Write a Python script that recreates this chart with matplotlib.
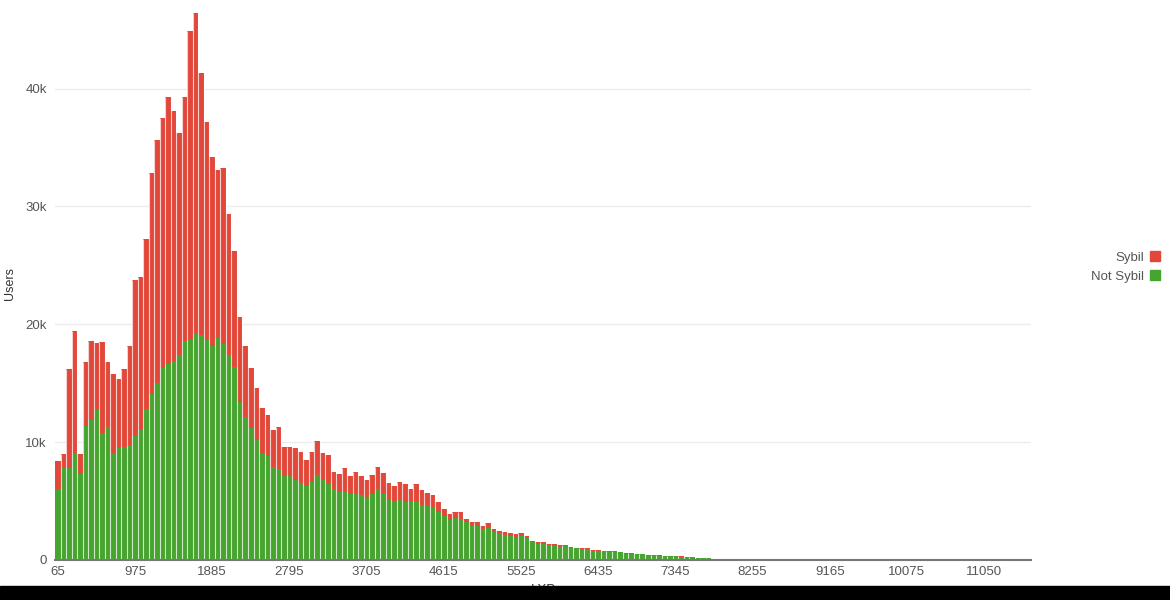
"""
LXP distribution of users, stacked Sybil / Not Sybil per 65-LXP bin.
"""

import numpy as np
import matplotlib
matplotlib.use("Agg")
import matplotlib.pyplot as plt
from matplotlib.patches import Patch, Rectangle

# Users per bin, in thousands
total_k = [
    8.4, 9.0, 16.2, 19.4, 9.0, 16.8, 18.6, 18.4, 18.5, 16.8,
    15.8, 15.4, 16.2, 18.2, 23.8, 24.0, 27.2, 32.8, 35.6, 37.5,
    39.3, 38.1, 36.2, 39.3, 44.9, 46.4, 41.3, 37.2, 34.2, 33.1,
    33.3, 29.4, 26.2, 20.6, 18.2, 16.3, 14.6, 12.9, 12.3, 11.0,
    11.3, 9.6, 9.6, 9.5, 9.2, 8.5, 9.2, 10.1, 9.1, 8.9,
    7.5, 7.3, 7.8, 7.1, 7.5, 7.1, 6.8, 7.2, 7.9, 7.4,
    6.5, 6.3, 6.6, 6.45, 6.0, 6.45, 5.9, 5.7, 5.5, 4.9,
    4.3, 3.9, 4.1, 4.1, 3.5, 3.2, 3.2, 2.9, 3.1, 2.6,
    2.5, 2.4, 2.3, 2.2, 2.3, 2.0, 1.6, 1.5, 1.5, 1.4,
    1.35, 1.25, 1.3, 1.1, 1.05, 1.05, 1.0, 0.85, 0.85, 0.8,
    0.75, 0.75, 0.7, 0.6, 0.6, 0.55, 0.5, 0.45, 0.42, 0.40,
    0.38, 0.36, 0.33, 0.30, 0.27, 0.24, 0.21, 0.18, 0.15, 0.12,
    0.10, 0.08, 0.06, 0.05, 0.04, 0.03, 0.03, 0.02, 0.02, 0.015,
    0.01, 0.01, 0.01, 0.01, 0.01, 0.01, 0.01, 0.01, 0.01, 0.01,
    0.008, 0.008, 0.006, 0.006, 0.005, 0.005, 0.005, 0.004, 0.004, 0.004,
    0.003, 0.003, 0.003, 0.003, 0.003, 0.003, 0.003, 0.003, 0.003, 0.003,
    0.002, 0.002, 0.002, 0.002, 0.002, 0.002, 0.002, 0.002, 0.002, 0.002,
    0.002, 0.001, 0.001, 0.001, 0.001, 0.001, 0.001,
]

not_sybil_k = [
    6.0, 7.9, 7.8, 9.1, 7.3, 11.4, 11.9, 12.7, 10.8, 11.3,
    9.1, 9.5, 9.6, 9.8, 10.5, 11.0, 12.8, 14.1, 15.0, 16.3,
    16.6, 16.9, 17.4, 18.6, 18.7, 19.3, 19.1, 18.7, 18.2, 18.8,
    18.3, 17.4, 16.4, 13.4, 12.1, 11.2, 10.2, 9.1, 8.8, 7.9,
    7.7, 7.1, 7.1, 6.8, 6.5, 6.3, 6.6, 7.2, 6.8, 6.45,
    6.0, 5.8, 5.8, 5.6, 5.6, 5.5, 5.35, 5.6, 6.0, 5.6,
    5.1, 5.0, 5.05, 4.9, 4.9, 5.0, 4.7, 4.6, 4.4, 4.1,
    3.7, 3.4, 3.6, 3.5, 3.2, 2.9, 2.9, 2.6, 2.7, 2.4,
    2.3, 2.1, 2.0, 1.9, 2.0, 1.85, 1.5, 1.4, 1.4, 1.3,
    1.2, 1.1, 1.15, 1.0, 1.0, 0.95, 0.9, 0.8, 0.8, 0.75,
    0.7, 0.7, 0.65, 0.55, 0.55, 0.5, 0.48, 0.42, 0.40, 0.38,
    0.36, 0.34, 0.31, 0.28, 0.25, 0.23, 0.20, 0.17, 0.14, 0.11,
    0.095, 0.075, 0.057, 0.047, 0.038, 0.028, 0.028, 0.019, 0.019, 0.014,
    0.009, 0.009, 0.009, 0.009, 0.009, 0.009, 0.009, 0.009, 0.009, 0.009,
    0.007, 0.007, 0.005, 0.005, 0.004, 0.004, 0.004, 0.003, 0.003, 0.003,
    0.003, 0.003, 0.003, 0.003, 0.003, 0.003, 0.003, 0.003, 0.003, 0.003,
    0.002, 0.002, 0.002, 0.002, 0.002, 0.002, 0.002, 0.002, 0.002, 0.002,
    0.002, 0.001, 0.001, 0.001, 0.001, 0.001, 0.001,
]

tick_labels = ["65", "975", "1885", "2795", "3705", "4615", "5525",
               "6435", "7345", "8255", "9165", "10075", "11050"]
tick_step = 14

RED = "#e2483a"
GREEN = "#47a52f"
TXT = "#555555"


def main():
    total = np.array(total_k) * 1000
    not_sybil = np.array(not_sybil_k) * 1000
    assert len(total) == len(not_sybil)
    sybil = total - not_sybil
    idx = np.arange(len(total))

    plt.rcParams['font.family'] = ['Liberation Sans', 'DejaVu Sans']

    fig = plt.figure(figsize=(11.7, 6.0), dpi=100)
    ax = fig.add_axes([55 / 1170, 40 / 600, 976 / 1170, 548 / 600])

    ax.bar(idx, not_sybil, width=1.0, color=GREEN, linewidth=0, zorder=2)
    ax.bar(idx, sybil, bottom=not_sybil, width=1.0, color=RED,
           linewidth=0, zorder=2)
    # thin light separators between neighbouring bars
    sep_h = np.maximum(total[:-1], total[1:])
    ax.vlines(idx[:-1] + 0.5, 0, sep_h, color='white', alpha=0.75,
              linewidth=0.8, zorder=2.5)

    ax.set_xlim(-0.5, len(total) - 0.5)
    ax.set_ylim(0, 46500)

    ax.set_yticks([0, 10000, 20000, 30000, 40000])
    ax.set_yticklabels(["0", "10k", "20k", "30k", "40k"])
    ax.set_xticks(idx[::tick_step][:len(tick_labels)])
    ax.set_xticklabels(tick_labels)
    ax.tick_params(axis='both', length=0, labelsize=9.5, labelcolor=TXT)
    ax.tick_params(axis='x', pad=4)
    ax.tick_params(axis='y', pad=6)

    ax.grid(axis='y', color='#ececec', linewidth=1, zorder=0)
    for side in ['top', 'right', 'left']:
        ax.spines[side].set_visible(False)
    ax.spines['bottom'].set_color('#777777')
    ax.spines['bottom'].set_linewidth(1.5)
    ax.spines['bottom'].set_zorder(3)

    fig.text(10 / 1170, 1 - 283 / 600, "Users", fontsize=9, color='#333333',
             rotation=90, ha='center', va='center')
    fig.text(543 / 1170, 1 - 590 / 600, "LXP", fontsize=9.5, color='#333333',
             ha='center', va='center')

    handles = [Patch(color=RED), Patch(color=GREEN)]
    leg = fig.legend(handles, ["Sybil", "Not Sybil"], loc='center right',
                     bbox_to_anchor=(1172 / 1170, 1 - 267 / 600),
                     frameon=False, markerfirst=False, fontsize=9.5,
                     handlelength=0.8, handleheight=0.8, handletextpad=0.4,
                     labelspacing=0.5)
    for t in leg.get_texts():
        t.set_color(TXT)

    # dark strip along the bottom of the screenshot
    fig.patches.append(Rectangle((0, 0), 1, 14 / 600, transform=fig.transFigure,
                                 color='black', zorder=10))

    fig.savefig("out.png", dpi=100, facecolor='white')


if __name__ == '__main__':
    main()
